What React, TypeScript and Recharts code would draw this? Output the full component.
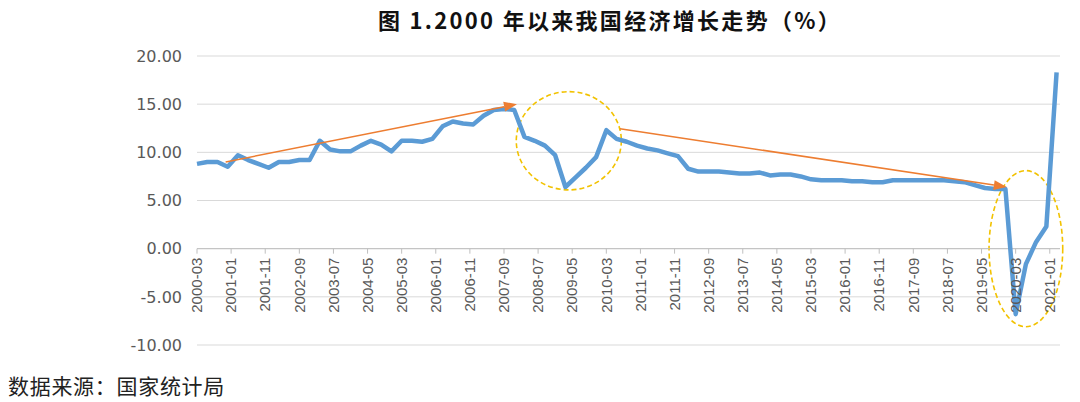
import React from 'react';
import { LineChart, Line, XAxis, YAxis, CartesianGrid, ReferenceLine, ReferenceArea } from 'recharts';

// quarterly cumulative GDP growth (%), 2000-Q1 .. 2021-Q1
const gdpGrowth = [
  8.8, 9.0, 9.0, 8.5, // 2000
  9.7, 9.2, 8.8, 8.4, // 2001
  9.0, 9.0, 9.2, 9.2, // 2002
  11.2, 10.3, 10.1, 10.1, // 2003
  10.7, 11.2, 10.8, 10.1, // 2004
  11.2, 11.2, 11.1, 11.4, // 2005
  12.7, 13.2, 13.0, 12.9, // 2006
  13.8, 14.4, 14.5, 14.4, // 2007
  11.6, 11.2, 10.7, 9.7, // 2008
  6.4, 7.4, 8.4, 9.5, // 2009
  12.3, 11.4, 11.1, 10.7, // 2010
  10.4, 10.2, 9.9, 9.6, // 2011
  8.3, 8.0, 8.0, 8.0, // 2012
  7.9, 7.8, 7.8, 7.9, // 2013
  7.6, 7.7, 7.7, 7.5, // 2014
  7.2, 7.1, 7.1, 7.1, // 2015
  7.0, 7.0, 6.9, 6.9, // 2016
  7.1, 7.1, 7.1, 7.1, // 2017
  7.1, 7.1, 7.0, 6.9, // 2018
  6.6, 6.3, 6.2, 6.2, // 2019
  -6.8, -1.6, 0.7, 2.3, // 2020
  18.3, // 2021
];

const tickLabels = [
  '2000-03', '2001-01', '2001-11', '2002-09', '2003-07', '2004-05', '2005-03',
  '2006-01', '2006-11', '2007-09', '2008-07', '2009-05', '2010-03', '2011-01',
  '2011-11', '2012-09', '2013-07', '2014-05', '2015-03', '2016-01', '2016-11',
  '2017-09', '2018-07', '2019-05', '2020-03', '2021-01',
];

const yTicks = [-10, -5, 0, 5, 10, 15, 20];

// annotations, in months since 2000-03 / percent
const trendArrows = [
  { from: { x: 8.4, y: 9.0 }, to: { x: 93.8, y: 15.0 } },
  { from: { x: 124, y: 12.45 }, to: { x: 237.4, y: 6.4 } },
];
const highlights = [
  { x1: 93.6, x2: 124.4, y1: 6.1, y2: 16.3 },
  { x1: 232.2, x2: 253.8, y1: -8.1, y2: 8.1 },
];

const monthIndex = (label: string) => {
  const [y, m] = label.split('-').map(Number);
  return (y - 2000) * 12 + m - 3;
};

const data = gdpGrowth.map((v, i) => ({ t: i * 3, v }));
const xTicks = tickLabels.map(monthIndex);
const labelByMonth = new Map(tickLabels.map((l) => [monthIndex(l), l]));

const W = 1080;
const H = 402;
const X_AXIS_H = 30;
const MARGIN = { top: 56, right: 20, bottom: 57 - X_AXIS_H, left: 0 };
const Y_MIN = -10;
const Y_MAX = 20;
const plotH = H - MARGIN.top - MARGIN.bottom - X_AXIS_H;
const zeroY = MARGIN.top + (plotH * Y_MAX) / (Y_MAX - Y_MIN);

const BLUE = '#5B9BD5';
const ORANGE = '#ED7D31';
const GOLD = '#F2C200';
const AXIS_TEXT = '#595959';

const XTick = (props: any) => {
  const { x, payload } = props;
  const ty = zeroY + 9;
  return (
    <g>
      <line x1={x} x2={x} y1={zeroY} y2={zeroY + 5} stroke="#BFBFBF" />
      <text
        x={x}
        y={ty}
        dy="0.35em"
        transform={`rotate(-90 ${x} ${ty})`}
        textAnchor="end"
        fill={AXIS_TEXT}
        fontSize={15}
        fontFamily="Liberation Sans"
      >
        {labelByMonth.get(payload.value)}
      </text>
    </g>
  );
};

const ArrowShape = (p: any) => {
  const { x1, y1, x2, y2 } = p;
  const a = Math.atan2(y2 - y1, x2 - x1);
  const len = 13;
  const half = 5;
  const bx = x2 - len * Math.cos(a);
  const by = y2 - len * Math.sin(a);
  const pts = [
    [x2, y2],
    [bx - half * Math.sin(a), by + half * Math.cos(a)],
    [bx + half * Math.sin(a), by - half * Math.cos(a)],
  ]
    .map((q) => q.join(','))
    .join(' ');
  return (
    <g>
      <line x1={x1} y1={y1} x2={bx} y2={by} stroke={ORANGE} strokeWidth={1.5} />
      <polygon points={pts} fill={ORANGE} />
    </g>
  );
};

const EllipseShape = (p: any) => (
  <ellipse
    cx={p.x + p.width / 2}
    cy={p.y + p.height / 2}
    rx={Math.abs(p.width) / 2}
    ry={Math.abs(p.height) / 2}
    fill="none"
    stroke={GOLD}
    strokeWidth={1.6}
    strokeDasharray="5 3"
  />
);

export default function App() {
  return (
    <div style={{ position: 'absolute', left: 0, top: 0, width: W, height: H, background: '#fff' }}>
      <div
        style={{
          position: 'absolute',
          left: 130,
          top: 4,
          width: 960,
          textAlign: 'center',
          fontFamily: '"Noto Sans CJK SC", sans-serif',
          fontSize: 22,
          letterSpacing: 2.3,
          fontWeight: 'bold',
          color: '#111',
          lineHeight: '30px',
        }}
      >
        图 1.2000 年以来我国经济增长走势（%）
      </div>
      <LineChart width={W} height={H} data={data} margin={MARGIN}>
        <CartesianGrid vertical={false} stroke="#D9D9D9" />
        <XAxis
          dataKey="t"
          type="number"
          domain={[0, 253]}
          ticks={xTicks}
          interval={0}
          height={X_AXIS_H}
          axisLine={false}
          tickLine={false}
          tick={XTick}
        />
        <YAxis
          domain={[Y_MIN, Y_MAX]}
          ticks={yTicks}
          width={197}
          axisLine={false}
          tickLine={false}
          tickSize={0}
          tickMargin={15}
          tickFormatter={(v: number) => v.toFixed(2)}
          tick={{ fill: AXIS_TEXT, fontSize: 16, fontFamily: 'DejaVu Sans' }}
        />
        <ReferenceLine y={0} stroke="#BFBFBF" />
        <Line
          type="linear"
          dataKey="v"
          stroke={BLUE}
          strokeWidth={4.5}
          dot={false}
          strokeLinejoin="round"
          isAnimationActive={false}
        />
        {trendArrows.map((a, i) => (
          <ReferenceLine key={`arrow${i}`} segment={[a.from, a.to]} shape={ArrowShape} />
        ))}
        {highlights.map((h, i) => (
          <ReferenceArea
            key={`hl${i}`}
            x1={h.x1}
            x2={h.x2}
            y1={h.y1}
            y2={h.y2}
            ifOverflow="visible"
            shape={EllipseShape}
          />
        ))}
      </LineChart>
      <div
        style={{
          position: 'absolute',
          left: 8,
          top: 371,
          fontFamily: '"Noto Sans CJK SC", sans-serif',
          fontSize: 21,
          letterSpacing: 0.7,
          color: '#222',
          lineHeight: '28px',
        }}
      >
        数据来源：国家统计局
      </div>
    </div>
  );
}
